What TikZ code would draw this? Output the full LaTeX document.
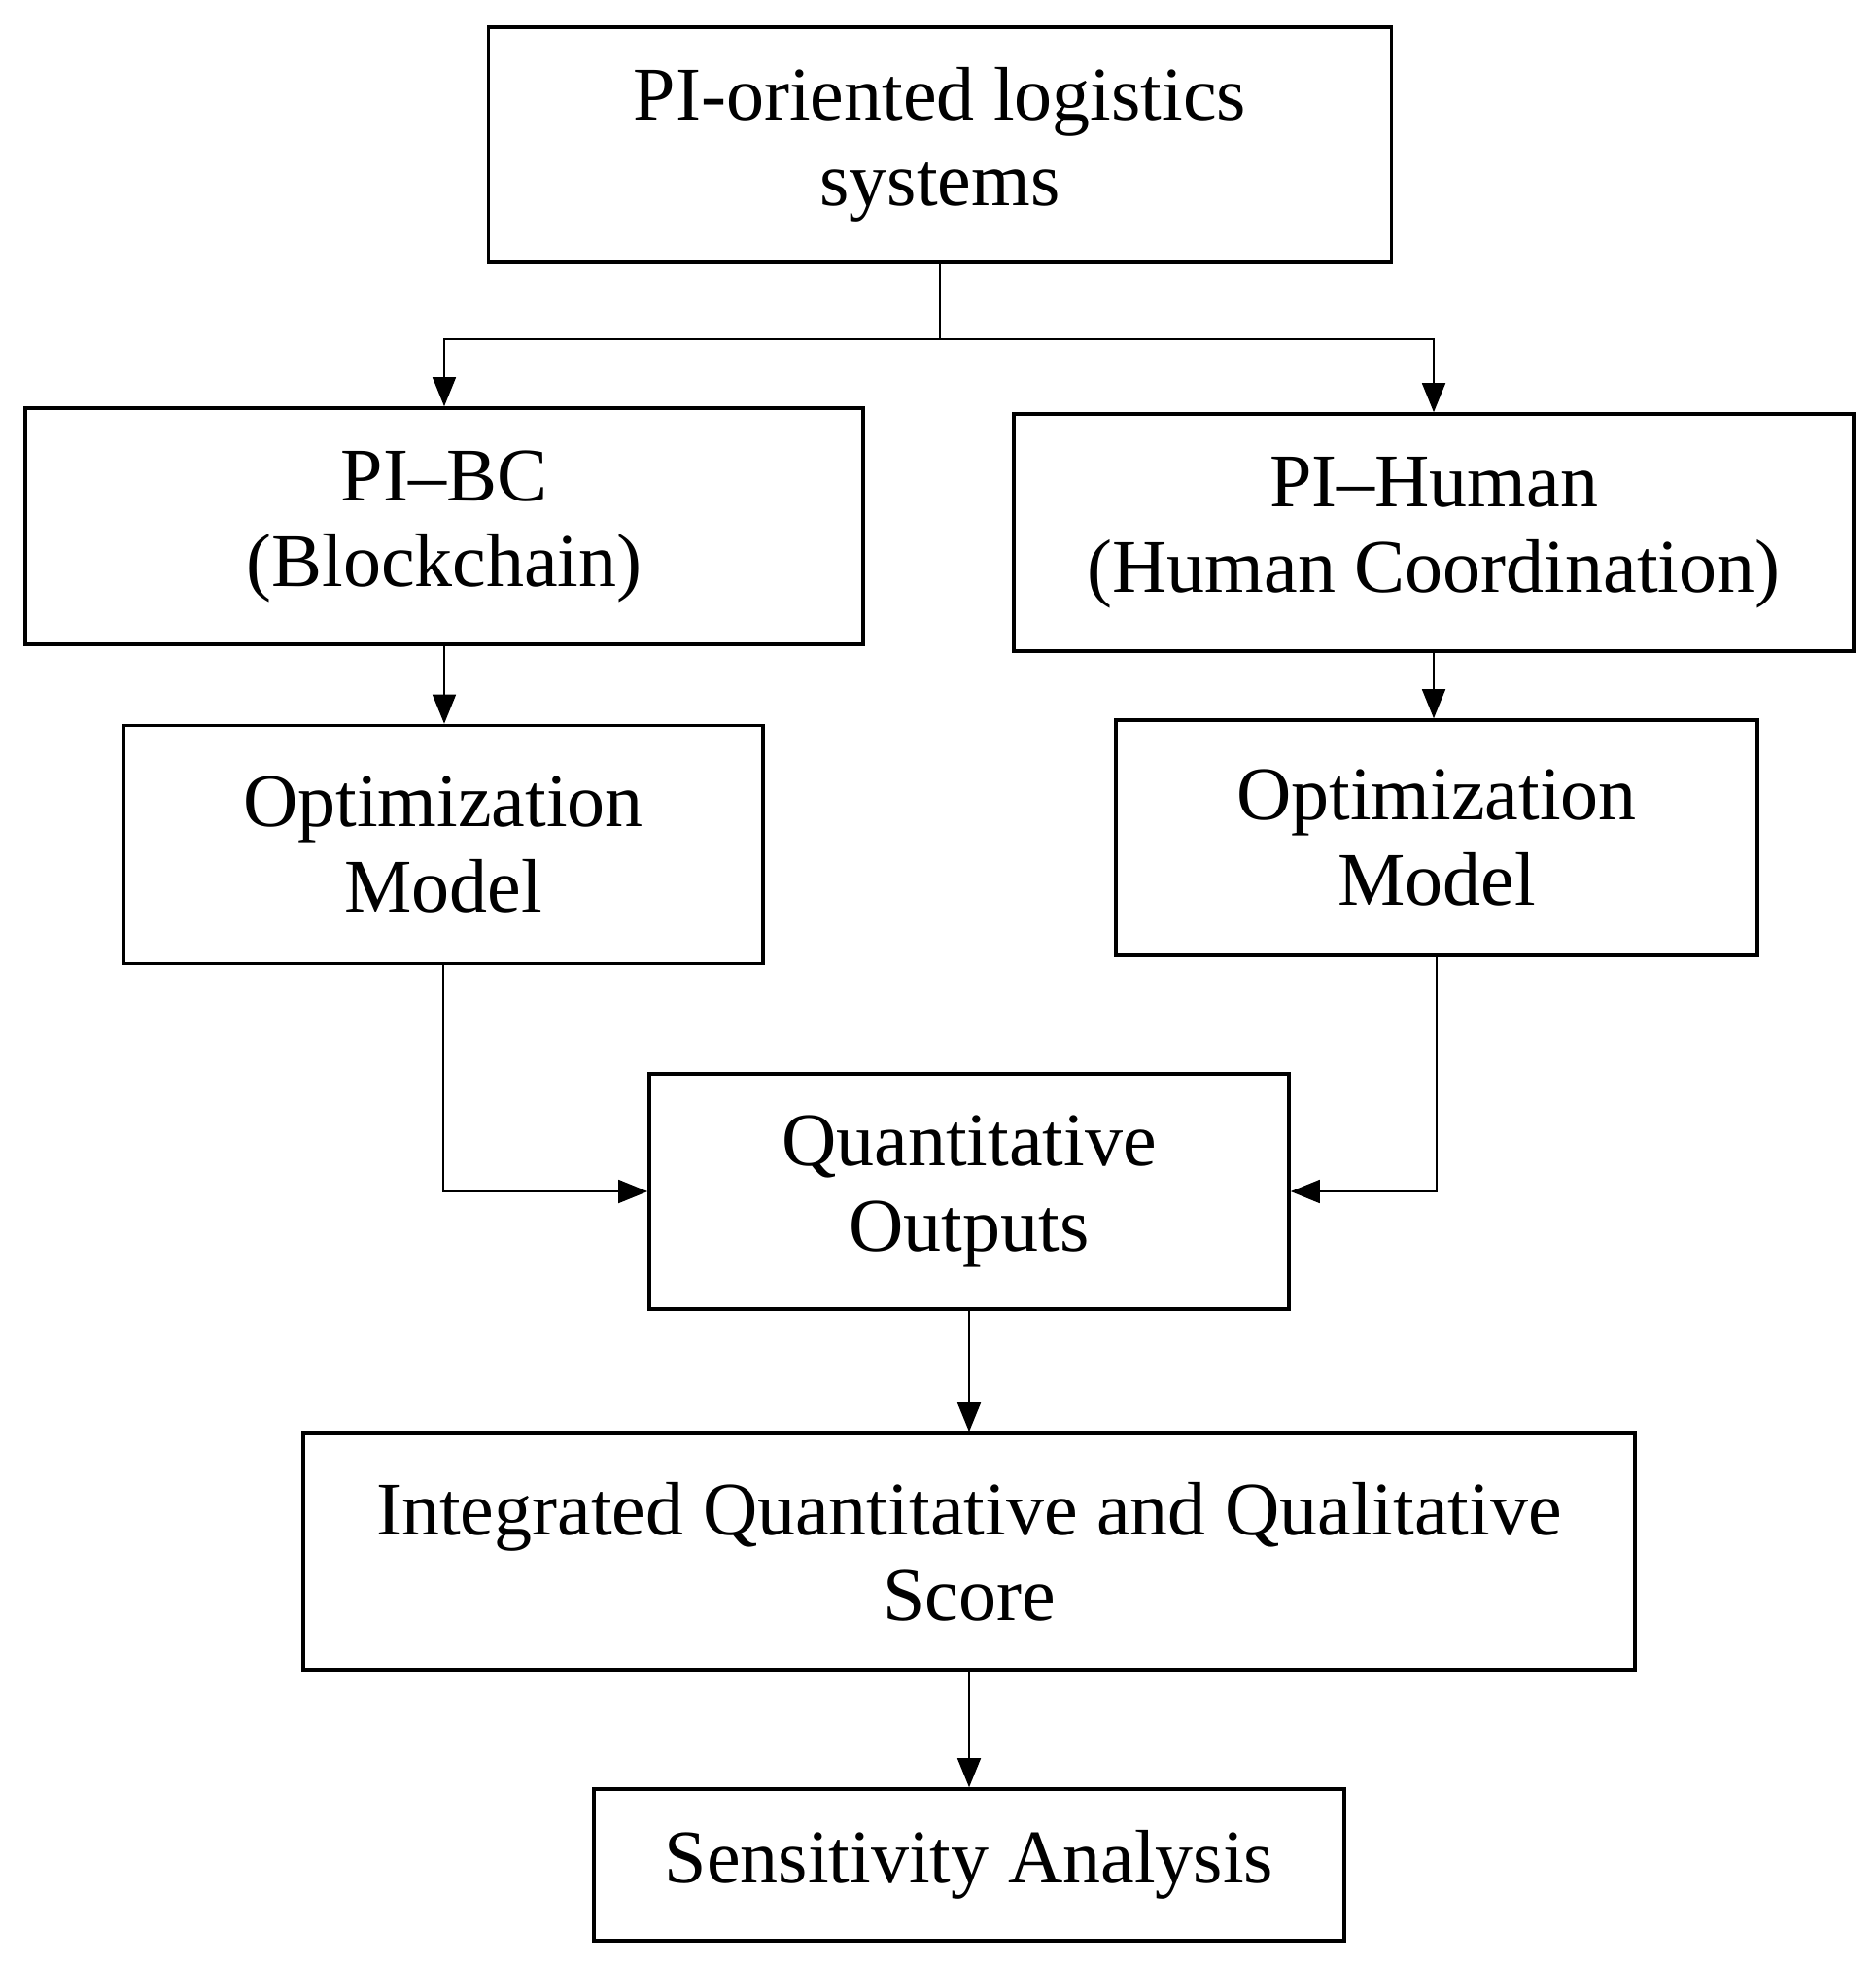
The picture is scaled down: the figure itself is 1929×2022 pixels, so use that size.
\documentclass[tikz,border=0pt]{standalone}
\usepackage{fontspec}
\setmainfont{Liberation Serif}
\usetikzlibrary{arrows.meta}
\begin{document}
\begin{tikzpicture}[x=0.5pt,y=-0.5pt,
  box/.style={draw=black, line width=1.8pt, align=center, inner sep=4pt,
    font=\fontsize{39pt}{44pt}\selectfont},
  conn/.style={draw=black, line width=0.8pt, -{Triangle[length=15pt,width=12pt]}}]
\useasboundingbox (0,0) rectangle (1929,2022);
\node[box, minimum width=464.5pt, minimum height=121pt] (top) at (967,149) {PI-oriented logistics\\systems};
\node[box, minimum width=431pt, minimum height=121.5pt] (bc) at (457,541.5) {PI–BC\\(Blockchain)};
\node[box, minimum width=432pt, minimum height=122pt] (hum) at (1475,548) {PI–Human\\(Human Coordination)};
\node[box, minimum width=329pt, minimum height=122.5pt] (optl) at (456,869) {Optimization\\Model};
\node[box, minimum width=330pt, minimum height=121pt] (optr) at (1478,862) {Optimization\\Model};
\node[box, minimum width=329pt, minimum height=121pt] (quant) at (997,1226) {Quantitative\\Outputs};
\node[box, minimum width=685pt, minimum height=121.5pt] (integ) at (997,1596.5) {Integrated Quantitative and Qualitative\\Score};
\node[box, minimum width=386pt, minimum height=78pt] (sens) at (997,1919) {Sensitivity Analysis};
\coordinate (jy) at (0,349);
\draw[conn] (top.south) -- (top.south |- jy) -| (bc.north);
\draw[conn] (top.south) -- (top.south |- jy) -| (hum.north);
\draw[conn] (bc.south) -- (bc.south |- optl.north);
\draw[conn] (hum.south) -- (hum.south |- optr.north);
\draw[conn] (optl.south) |- (quant.west);
\draw[conn] (optr.south) |- (quant.east);
\draw[conn] (quant.south) -- (quant.south |- integ.north);
\draw[conn] (integ.south) -- (integ.south |- sens.north);
\end{tikzpicture}
\end{document}
